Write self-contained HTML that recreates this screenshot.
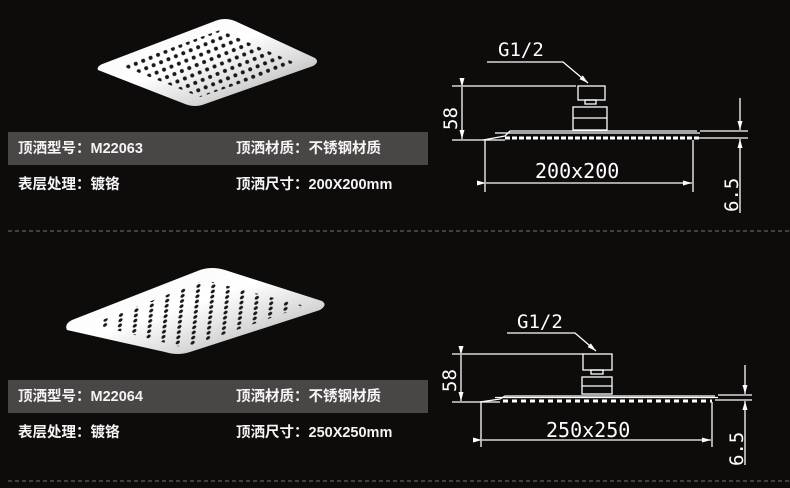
<!DOCTYPE html>
<html><head><meta charset="utf-8"><style>
html,body{margin:0;padding:0;background:#0e0b0b;}
svg{display:block}
.t{font-family:"Liberation Sans","Noto Sans CJK SC",sans-serif;font-size:14.5px;fill:#f4f4f4;font-weight:600;}
.d{font-family:"DejaVu Sans Mono","Liberation Mono",monospace;fill:#fff;font-weight:300;}
</style></head><body>
<svg width="790" height="488" viewBox="0 0 790 488" xmlns="http://www.w3.org/2000/svg">
<defs>
<linearGradient id="chrome" x1="0" y1="0" x2="1" y2="1">
<stop offset="0" stop-color="#f4f4f4"/><stop offset="0.45" stop-color="#ffffff"/><stop offset="0.7" stop-color="#d8d8d8"/><stop offset="1" stop-color="#9a9a9a"/>
</linearGradient>
<pattern id="holes1" width="8" height="8" patternUnits="userSpaceOnUse" patternTransform="rotate(-22) translate(2 2)">
<circle cx="4" cy="4" r="2" fill="#1a1a1a"/></pattern>
<pattern id="holes2" width="14" height="5.5" patternUnits="userSpaceOnUse" patternTransform="skewX(-25) rotate(-20)">
<circle cx="4" cy="2.7" r="1.9" fill="#1a1a1a"/></pattern>
<marker id="ar" markerUnits="userSpaceOnUse" markerWidth="9" markerHeight="5" refX="9" refY="2.5" orient="auto"><path d="M0,0 L9,2.5 L0,5 z" fill="#fff"/></marker>
</defs>
<rect width="790" height="488" fill="#0e0b0b"/>

<!-- plate 1 -->
<path d="M98,70 Q96,66 105,63 L215,21 Q225,17 235,21 L315,58 Q320,62 313,66 L205,104 Q195,108 185,104 Z" fill="url(#chrome)"/>
<path d="M122,66 L220,30 L298,64 L200,97 Z" fill="url(#holes1)"/>
<!-- plate 2 -->
<path d="M67,330 Q64,324 72,320 L200,270 Q212,266 225,270 L322,301 Q328,305 320,310 L190,352 Q178,356 165,352 Z" fill="url(#chrome)"/>
<path d="M92,324 L205,280 L305,306 L185,348 Z" fill="url(#holes2)"/>

<!-- bars -->
<rect x="8" y="132" width="420" height="33" fill="#4a4646"/>
<rect x="8" y="380" width="420" height="33" fill="#4a4646"/>
<text class="t" x="18" y="153">顶洒型号：M22063</text>
<text class="t" x="236" y="153">顶洒材质：不锈钢材质</text>
<text class="t" x="18" y="189">表层处理：镀铬</text>
<text class="t" x="236" y="189">顶洒尺寸：200X200mm</text>
<text class="t" x="18" y="401">顶洒型号：M22064</text>
<text class="t" x="236" y="401">顶洒材质：不锈钢材质</text>
<text class="t" x="18" y="437">表层处理：镀铬</text>
<text class="t" x="236" y="437">顶洒尺寸：250X250mm</text>

<line x1="8" y1="231" x2="790" y2="231" stroke="#777" stroke-width="1" stroke-dasharray="4,3"/>
<line x1="8" y1="481" x2="790" y2="481" stroke="#777" stroke-width="1" stroke-dasharray="4,3"/>

<!-- diagram 1 -->
<g stroke="#fff" stroke-width="1.3" fill="none">
<polyline points="487,62 563,62 588,83" marker-end="url(#ar)"/>
<line x1="452" y1="86" x2="576" y2="86"/>
<rect x="578" y="86" width="27" height="14"/>
<rect x="585" y="100" width="11" height="4"/>
<rect x="573" y="107" width="34" height="23"/>
<line x1="573" y1="118" x2="607" y2="118"/>
<path d="M483,140 L505,136 L510,131 L697,131"/>
<line x1="495" y1="133" x2="700" y2="133"/>
<line x1="452" y1="140" x2="505" y2="140"/>
<line x1="462" y1="87" x2="462" y2="139" marker-start="url(#ar)" marker-end="url(#ar)"/>
<line x1="485" y1="140" x2="485" y2="192"/>
<line x1="693" y1="140" x2="693" y2="192"/>
<line x1="486" y1="183" x2="692" y2="183" marker-start="url(#ar)" marker-end="url(#ar)"/>
<line x1="700" y1="131" x2="748" y2="131"/>
<line x1="697" y1="138" x2="748" y2="138"/>
<line x1="740" y1="98" x2="740" y2="130" marker-end="url(#ar)"/>
<line x1="740" y1="213" x2="740" y2="139" marker-end="url(#ar)"/>
</g>
<line x1="505" y1="138" x2="700" y2="138" stroke="#fff" stroke-width="3" stroke-dasharray="5,2"/>
<text class="d" x="498" y="56" font-size="19">G1/2</text>
<text class="d" x="535" y="178" font-size="20">200x200</text>
<text class="d" font-size="19" transform="translate(457,130) rotate(-90)">58</text>
<text class="d" font-size="19" transform="translate(738,212) rotate(-90)">6.5</text>

<!-- diagram 2 -->
<g stroke="#fff" stroke-width="1.3" fill="none">
<polyline points="507,333 575,333 596,351" marker-end="url(#ar)"/>
<line x1="452" y1="354" x2="583" y2="354"/>
<rect x="583" y="354" width="29" height="16"/>
<rect x="591" y="370" width="12" height="4"/>
<rect x="582" y="377" width="30" height="17"/>
<line x1="582" y1="386" x2="612" y2="386"/>
<path d="M480,402 L500,399 L505,396 L715,396"/>
<line x1="495" y1="397.5" x2="718" y2="397.5"/>
<line x1="452" y1="402" x2="500" y2="402"/>
<line x1="461" y1="355" x2="461" y2="401" marker-start="url(#ar)" marker-end="url(#ar)"/>
<line x1="481" y1="402" x2="481" y2="447"/>
<line x1="712" y1="402" x2="712" y2="447"/>
<line x1="482" y1="440" x2="711" y2="440" marker-start="url(#ar)" marker-end="url(#ar)"/>
<line x1="718" y1="395" x2="752" y2="395"/>
<line x1="715" y1="400" x2="752" y2="400"/>
<line x1="745" y1="365" x2="745" y2="394" marker-end="url(#ar)"/>
<line x1="745" y1="465" x2="745" y2="401" marker-end="url(#ar)"/>
</g>
<line x1="503" y1="401" x2="712" y2="401" stroke="#fff" stroke-width="3" stroke-dasharray="5,4"/>
<text class="d" x="517" y="328" font-size="19">G1/2</text>
<text class="d" x="546" y="437" font-size="20">250x250</text>
<text class="d" font-size="19" transform="translate(456,392) rotate(-90)">58</text>
<text class="d" font-size="19" transform="translate(743,466) rotate(-90)">6.5</text>
</svg>
</body></html>
